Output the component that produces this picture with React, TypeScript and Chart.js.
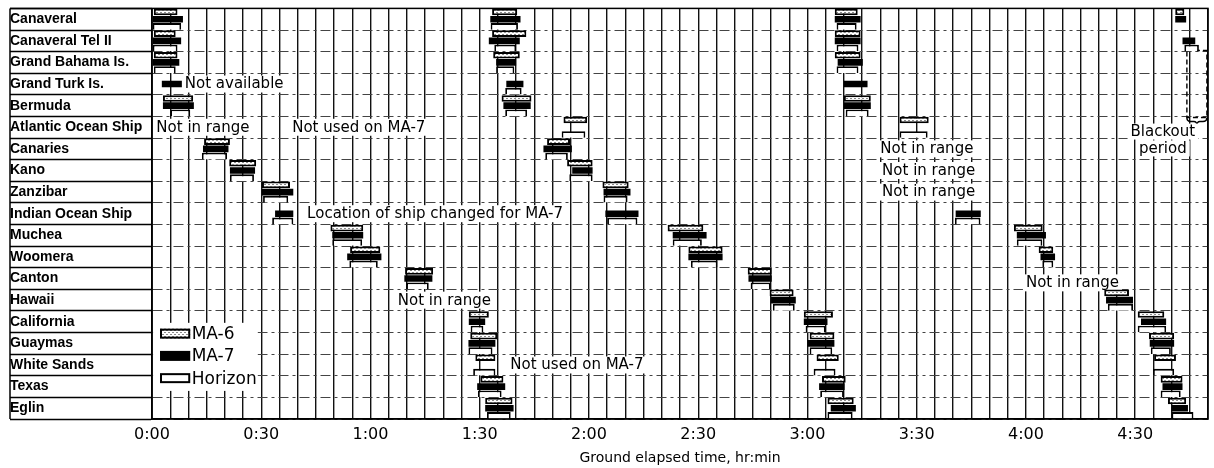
import React, { useEffect, useRef } from 'react';
import { Chart, registerables } from 'chart.js';

Chart.register(...registerables);

type Span = [number, number] | null;

// Tracking stations (rows, top to bottom)
const stations = [
  'Canaveral', 'Canaveral Tel II', 'Grand Bahama Is.', 'Grand Turk Is.', 'Bermuda',
  'Atlantic Ocean Ship', 'Canaries', 'Kano', 'Zanzibar', 'Indian Ocean Ship',
  'Muchea', 'Woomera', 'Canton', 'Hawaii', 'California', 'Guaymas',
  'White Sands', 'Texas', 'Eglin',
];

// x-axis tick labels, every 30 min of ground elapsed time
const xTickLabels = ['0:00', '0:30', '1:00', '1:30', '2:00', '2:30', '3:00', '3:30', '4:00', '4:30'];

// Coverage windows in minutes of ground elapsed time, one entry per station
const ma6Pass1: Span[] = [
  [0.5, 7], [0.5, 6.5], [0.5, 7], null, [3, 11.3],
  null, [14.3, 21.4], [21.2, 28.6], [30.2, 37.9], null,
  [49, 58], [54.4, 62.7], [69.5, 77.2], null, [87, 92.5], [87.4, 94.8],
  [88.8, 94.3], [90.2, 96.5], [91.5, 99],
];
const ma6Pass2: Span[] = [
  [93.4, 100.3], [93.4, 102.8], [93.7, 101], null, [96, 104.2],
  [113, 119.5], [108.5, 114.8], [114, 121], [123.7, 130.9], null,
  [141.6, 151.4], [147.3, 156.7], [163.6, 170.2], [169.6, 176.2], [179, 187], [180.6, 187.4],
  [182.5, 188.6], [184, 190.5], [185.5, 192.7],
];
const ma6Pass3: Span[] = [
  [187.5, 193.8], [187.5, 194.6], [187.5, 194.6], null, [190, 197.4],
  [205.3, 213.3], null, null, null, null,
  [236.7, 244.6], [243.5, 247.5], null, [261.5, 268.3], [270.7, 278], [273.8, 280.7],
  [275.2, 281.2], [277, 283], [279, 284],
];
const ma6Pass4: Span[] = [
  [281, 283.5], null, null, null, null, null, null, null, null, null,
  null, null, null, null, null, null, null, null, null,
];

const ma7Pass1: Span[] = [
  [0, 8.5], [0, 8], [0, 7.5], [2.7, 8.2], [3, 11.5],
  null, [14, 21], [21.4, 28.3], [30.2, 38.8], [33.8, 38.8],
  [49.5, 58], [53.6, 63], [69.3, 77], null, [87, 91.5], [86.9, 94.3],
  null, [89.3, 97], [91.5, 99.3],
];
const ma7Pass2: Span[] = [
  [92.9, 101.2], [92.5, 101], [94.5, 100], [97.3, 102], [96.5, 104],
  null, [107.5, 115.3], [115.4, 121], [124, 131.4], [124.5, 133.6],
  [143, 152.3], [147.3, 156.7], [163.8, 170.2], [170, 176.8], [179, 185.5], [180, 187.4],
  null, [183.2, 190.2], [186.4, 193.3],
];
const ma7Pass3: Span[] = [
  [187.5, 194.6], [187.5, 194.6], [188.3, 195.2], [190, 196.5], [190, 197.4],
  null, null, null, null, [220.7, 227.6],
  [237.5, 245.5], [244, 248], null, [262, 269.4], [271.6, 278.5], [274, 280.7],
  null, [277.5, 283], [280, 284.5],
];
const ma7Pass4: Span[] = [
  [281, 284], [283, 286.5], null, null, null, null, null, null, null, null,
  null, null, null, null, null, null, null, null, null,
];

const horizonPass1: Span[] = [
  [0, 8], [0, 7], [0.5, 6.5], null, [5, 10.5],
  null, [13.7, 20.6], [21.4, 28], [30.5, 37.4], [33, 38.8],
  [49.5, 57.7], [54.2, 62], [69.8, 76], null, [87.5, 91], [86.9, 93.5],
  [88.2, 94.3], [89.5, 96], [92, 98.5],
];
const horizonPass2: Span[] = [
  [93, 100.5], [94, 100], [94.5, 99.5], [97, 101.5], [97, 103],
  [112.5, 119], [108, 114.2], [114.6, 121], [124, 130.6], [125, 133.3],
  [143, 151], [148, 155.3], [164.4, 169.9], [170.5, 176.5], [179.5, 185], [180.6, 186.8],
  [181.7, 187.7], [183.5, 190], [185.5, 192.4],
];
const horizonPass3: Span[] = [
  [188, 193.5], [188, 194], [188, 194], null, [190.5, 196.8],
  [205.3, 213], null, null, null, [220.5, 227.5],
  [237.5, 244.5], [244.5, 247.5], null, [262.5, 269.4], [270.7, 278.5], [274.3, 279.8],
  [274.9, 280.7], [277, 282.5], [280, 286],
];
const horizonPass4: Span[] = [
  null, [283.5, 287.5], null, null, null, null, null, null, null, null,
  null, null, null, null, null, null, null, null, null,
];

const seriesNames = ['MA-6', 'MA-7', 'Horizon'];

// Text notes placed on the grid: minute of GET (left edge of text) and row index
const notes = [
  { text: 'Not available', minute: 9, row: 3 },
  { text: 'Not in range', minute: 1.2, row: 5 },
  { text: 'Not used on MA-7', minute: 38.5, row: 5 },
  { text: 'Location of ship changed for MA-7', minute: 42.6, row: 9 },
  { text: 'Not in range', minute: 67.5, row: 13 },
  { text: 'Not used on MA-7', minute: 98.4, row: 16 },
  { text: 'Not in range', minute: 200, row: 6 },
  { text: 'Not in range', minute: 200.5, row: 7 },
  { text: 'Not in range', minute: 200.5, row: 8 },
  { text: 'Not in range', minute: 240, row: 12.2 },
];
const blackoutText = ['Blackout', 'period'];

function makeHatch(): CanvasPattern | string {
  const c = document.createElement('canvas');
  c.width = 4;
  c.height = 4;
  const g = c.getContext('2d');
  if (!g) return '#cccccc';
  g.fillStyle = '#ffffff';
  g.fillRect(0, 0, 4, 4);
  g.fillStyle = '#8a8a8a';
  g.fillRect(0, 0, 2, 1);
  g.fillRect(2, 2, 2, 1);
  return g.createPattern(c, 'repeat') ?? '#cccccc';
}

const NOTE_FONT = '15px "DejaVu Sans"';

export default function App() {
  const ref = useRef<HTMLCanvasElement>(null);

  useEffect(() => {
    const canvas = ref.current;
    if (!canvas) return;
    const hatch = makeHatch();

    const styles: Record<string, any> = {
      'MA-6': { backgroundColor: hatch, borderColor: '#000', borderWidth: 2, borderSkipped: false },
      'MA-7': { backgroundColor: '#000', borderColor: '#000', borderWidth: 0, borderSkipped: false },
      Horizon: { backgroundColor: '#fff', borderColor: '#000', borderWidth: 1.8, borderSkipped: 'bottom' },
    };
    const passes: Record<string, Span[][]> = {
      'MA-6': [ma6Pass1, ma6Pass2, ma6Pass3, ma6Pass4],
      'MA-7': [ma7Pass1, ma7Pass2, ma7Pass3, ma7Pass4],
      Horizon: [horizonPass1, horizonPass2, horizonPass3, horizonPass4],
    };
    const datasets: any[] = [];
    seriesNames.forEach((name) => {
      passes[name].forEach((arr) => {
        datasets.push({ label: name, data: arr, stack: name, ...styles[name] });
      });
    });

    const notesPlugin = {
      id: 'notes',
      beforeDatasetsDraw(chart: any) {
        const { ctx, scales } = chart;
        const xs = scales.x;
        const ys = scales.y;
        ctx.save();
        ctx.font = NOTE_FONT;
        ctx.textBaseline = 'middle';
        ctx.textAlign = 'left';
        for (const n of notes) {
          const x = xs.getPixelForValue(n.minute);
          const y = ys.getPixelForValue(n.row);
          const w = ctx.measureText(n.text).width;
          ctx.fillStyle = '#fff';
          ctx.fillRect(x - 3, y - 8.5, w + 6, 17);
          ctx.fillStyle = '#000';
          ctx.fillText(n.text, x, y + 0.5);
        }
        // blackout period
        const bx1 = xs.getPixelForValue(284.2);
        const bx2 = xs.getPixelForValue(289.7);
        const by1 = ys.getPixelForValue(1.45);
        const by2 = ys.getPixelForValue(4.55);
        ctx.strokeStyle = '#000';
        ctx.lineWidth = 1.4;
        ctx.setLineDash([5, 3]);
        ctx.strokeRect(bx1, by1, bx2 - bx1, by2 - by1);
        ctx.setLineDash([]);
        const mid = (bx1 + bx2) / 2;
        ctx.beginPath();
        ctx.moveTo(bx1, by2);
        ctx.quadraticCurveTo(bx1, by2 + 4, bx1 + 4, by2 + 4);
        ctx.lineTo(mid - 3, by2 + 4);
        ctx.quadraticCurveTo(mid, by2 + 4, mid, by2 + 8);
        ctx.quadraticCurveTo(mid, by2 + 4, mid + 3, by2 + 4);
        ctx.lineTo(bx2 - 4, by2 + 4);
        ctx.quadraticCurveTo(bx2, by2 + 4, bx2, by2);
        ctx.stroke();
        const tx = xs.getPixelForValue(277.6);
        ctx.textAlign = 'center';
        blackoutText.forEach((t, i) => {
          const ty = ys.getPixelForValue(5.2 + i * 0.78);
          const w = ctx.measureText(t).width;
          ctx.fillStyle = '#fff';
          ctx.fillRect(tx - w / 2 - 3, ty - 8, w + 6, 16);
          ctx.fillStyle = '#000';
          ctx.fillText(t, tx, ty + 0.5);
        });
        ctx.restore();
      },
    };

    const legendPlugin = {
      id: 'inlineLegend',
      afterDatasetsDraw(chart: any) {
        const { ctx, scales } = chart;
        const xs = scales.x;
        const ys = scales.y;
        ctx.save();
        const lx1 = xs.getPixelForValue(0.3);
        const lx2 = xs.getPixelForValue(29);
        const ly1 = ys.getPixelForValue(14.05);
        const ly2 = ys.getPixelForValue(17.2);
        ctx.fillStyle = '#fff';
        ctx.fillRect(lx1, ly1, lx2 - lx1, ly2 - ly1);
        const sx1 = xs.getPixelForValue(2.2);
        const sx2 = xs.getPixelForValue(10.5);
        const tx = xs.getPixelForValue(10.9);
        ctx.font = '17px "DejaVu Sans"';
        ctx.textBaseline = 'middle';
        ctx.textAlign = 'left';
        seriesNames.forEach((name, i) => {
          const y = ys.getPixelForValue(14.55 + i * 1.03);
          const st = styles[name];
          ctx.fillStyle = st.backgroundColor;
          ctx.fillRect(sx1, y - 5, sx2 - sx1, 10);
          ctx.strokeStyle = '#000';
          ctx.lineWidth = 2;
          if (name !== 'MA-7') ctx.strokeRect(sx1 + 1, y - 4, sx2 - sx1 - 2, 8);
          ctx.fillStyle = '#000';
          ctx.fillText(name, tx, y + 1);
        });
        ctx.restore();
      },
    };

    const framePlugin = {
      id: 'frame',
      afterDraw(chart: any) {
        const { ctx, chartArea: a, scales } = chart;
        const ys = scales.y;
        ctx.save();
        ctx.strokeStyle = '#000';
        ctx.lineWidth = 1.5;
        ctx.strokeRect(a.left, a.top, a.right - a.left, a.bottom - a.top);
        ctx.beginPath();
        ctx.moveTo(ys.left, a.top);
        ctx.lineTo(ys.left, a.bottom);
        ctx.moveTo(ys.left, a.top);
        ctx.lineTo(a.left, a.top);
        ctx.stroke();
        ctx.restore();
      },
    };

    const chart = new Chart(canvas, {
      type: 'bar',
      data: { labels: stations, datasets },
      options: {
        indexAxis: 'y',
        animation: false,
        responsive: false,
        maintainAspectRatio: false,
        categoryPercentage: 1,
        barPercentage: 0.92,
        layout: { padding: { left: 10, right: 6, top: 8, bottom: 1 } },
        plugins: { legend: { display: false }, tooltip: { enabled: false } },
        scales: {
          x: {
            type: 'linear',
            min: 0,
            max: 290,
            stacked: false,
            ticks: {
              stepSize: 5,
              autoSkip: false,
              maxRotation: 0,
              padding: 6,
              color: '#000',
              font: { family: 'DejaVu Sans', size: 16 },
              callback: (v: any) => (Number(v) % 30 === 0 ? xTickLabels[Number(v) / 30] : ''),
            },
            grid: { color: '#111', lineWidth: 1.4, drawTicks: false },
            border: { display: true, color: '#000', width: 1.5 },
            title: {
              display: true,
              text: 'Ground elapsed time, hr:min',
              color: '#000',
              font: { family: 'DejaVu Sans', size: 14 },
              padding: { top: 0, bottom: 0 },
            },
          },
          y: {
            type: 'category',
            afterFit: (s: any) => {
              s.width = 142;
            },
            ticks: {
              crossAlign: 'far',
              autoSkip: false,
              padding: 0,
              color: '#000',
              font: { family: 'Liberation Sans', size: 14, weight: 'bold' },
            },
            grid: { color: '#444', lineWidth: 1, tickColor: '#000', tickWidth: 1.3, tickLength: 142, offset: true },
            border: { display: true, color: '#000', width: 1.5, dash: [10, 4, 3, 4] },
          },
        },
      } as any,
      plugins: [notesPlugin, legendPlugin, framePlugin],
    });
    return () => chart.destroy();
  }, []);

  return (
    <div style={{ position: 'absolute', left: 0, top: 0, width: 1214, height: 468, background: '#fff' }}>
      <canvas ref={ref} width={1214} height={468} style={{ display: 'block' }} />
    </div>
  );
}
